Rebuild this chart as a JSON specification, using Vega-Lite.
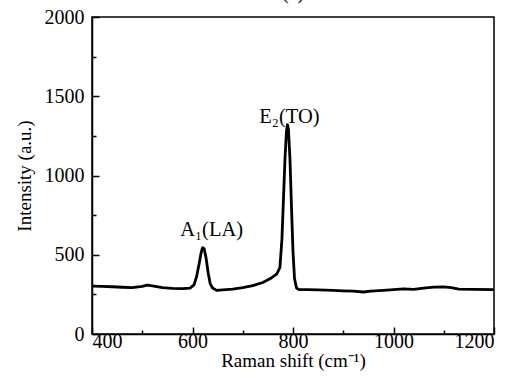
{
  "$schema": "https://vega.github.io/schema/vega-lite/v6.json",
  "width": 402,
  "height": 317,
  "autosize": {"type": "none"},
  "padding": {"left": 92, "top": 17, "right": 37, "bottom": 49},
  "background": "white",
  "title": {"text": "(a)", "font": "Times New Roman, Liberation Serif, serif", "fontSize": 20, "fontWeight": "normal", "color": "black", "offset": 4, "anchor": "middle"},
  "config": {
    "view": {"stroke": "black", "strokeWidth": 1.5},
    "axis": {
      "labelFont": "Times New Roman, Liberation Serif, serif", "titleFont": "Times New Roman, Liberation Serif, serif",
      "labelFontSize": 20, "titleFontSize": 19, "titleFontWeight": "normal",
      "labelColor": "black", "titleColor": "black",
      "domainColor": "black", "domainWidth": 1.5, "tickColor": "black", "tickWidth": 1.5,
      "grid": false
    }
  },
  "datasets": {
    "spectrum": [
      {"shift": 400, "intensity": 302}, {"shift": 420, "intensity": 300}, {"shift": 440, "intensity": 298},
      {"shift": 460, "intensity": 295}, {"shift": 480, "intensity": 292}, {"shift": 500, "intensity": 300},
      {"shift": 510, "intensity": 308}, {"shift": 520, "intensity": 303}, {"shift": 540, "intensity": 292},
      {"shift": 560, "intensity": 288}, {"shift": 580, "intensity": 286}, {"shift": 595, "intensity": 290},
      {"shift": 603, "intensity": 310}, {"shift": 608, "intensity": 360}, {"shift": 613, "intensity": 440},
      {"shift": 617, "intensity": 510}, {"shift": 620, "intensity": 545}, {"shift": 623, "intensity": 540},
      {"shift": 627, "intensity": 480}, {"shift": 631, "intensity": 390}, {"shift": 635, "intensity": 320},
      {"shift": 640, "intensity": 290}, {"shift": 648, "intensity": 275}, {"shift": 660, "intensity": 278},
      {"shift": 680, "intensity": 283}, {"shift": 700, "intensity": 292}, {"shift": 720, "intensity": 305},
      {"shift": 740, "intensity": 325}, {"shift": 755, "intensity": 350}, {"shift": 768, "intensity": 380},
      {"shift": 774, "intensity": 420}, {"shift": 778, "intensity": 600}, {"shift": 781, "intensity": 850},
      {"shift": 784, "intensity": 1100}, {"shift": 787, "intensity": 1280}, {"shift": 789, "intensity": 1320},
      {"shift": 791, "intensity": 1290}, {"shift": 794, "intensity": 1100}, {"shift": 797, "intensity": 800},
      {"shift": 800, "intensity": 520}, {"shift": 803, "intensity": 350}, {"shift": 807, "intensity": 290},
      {"shift": 812, "intensity": 280}, {"shift": 830, "intensity": 280}, {"shift": 850, "intensity": 278},
      {"shift": 880, "intensity": 275}, {"shift": 900, "intensity": 272}, {"shift": 920, "intensity": 270},
      {"shift": 940, "intensity": 265}, {"shift": 955, "intensity": 270}, {"shift": 980, "intensity": 275},
      {"shift": 1000, "intensity": 280}, {"shift": 1020, "intensity": 285}, {"shift": 1040, "intensity": 282},
      {"shift": 1060, "intensity": 290}, {"shift": 1080, "intensity": 296}, {"shift": 1100, "intensity": 297},
      {"shift": 1115, "intensity": 292}, {"shift": 1130, "intensity": 283}, {"shift": 1160, "intensity": 282},
      {"shift": 1200, "intensity": 280}
    ],
    "labels": [
      {"shift": 638, "intensity": 656, "label": "A₁(LA)"},
      {"shift": 793, "intensity": 1369, "label": "E₂(TO)"}
    ]
  },
  "layer": [
    {
      "data": {"name": "spectrum"},
      "mark": {"type": "line", "color": "black", "strokeWidth": 2.8, "strokeJoin": "round"},
      "encoding": {
        "x": {"field": "shift", "type": "quantitative", "scale": {"domain": [400, 1200], "nice": false},
          "axis": {"orient": "bottom", "values": [400, 600, 800, 1000, 1200], "format": "d", "tickSize": -7, "labelPadding": 4, "title": "Raman shift (cm⁻¹)", "titlePadding": 0}},
        "y": {"field": "intensity", "type": "quantitative", "scale": {"domain": [0, 2000], "nice": false},
          "axis": {"orient": "left", "values": [0, 500, 1000, 1500, 2000], "format": "d", "tickSize": -7, "labelPadding": 15, "title": "Intensity (a.u.)", "titlePadding": 10}}
      }
    },
    {
      "data": {"name": "spectrum"},
      "mark": {"type": "point", "opacity": 0},
      "encoding": {
        "x": {"field": "shift", "type": "quantitative", "scale": {"domain": [400, 1200], "nice": false},
          "axis": {"orient": "bottom", "values": [500, 700, 900, 1100], "tickSize": -4, "labels": false, "title": null, "domain": false}},
        "y": {"field": "intensity", "type": "quantitative", "scale": {"domain": [0, 2000], "nice": false},
          "axis": {"orient": "left", "values": [250, 750, 1250, 1750], "tickSize": -4, "labels": false, "title": null, "domain": false}}
      }
    },
    {
      "data": {"name": "labels"},
      "mark": {"type": "text", "font": "Times New Roman, Liberation Serif, serif", "fontSize": 20.5, "color": "black", "align": "center", "baseline": "middle"},
      "encoding": {
        "x": {"field": "shift", "type": "quantitative", "axis": null},
        "y": {"field": "intensity", "type": "quantitative", "axis": null},
        "text": {"field": "label"}
      }
    }
  ],
  "resolve": {"axis": {"x": "independent", "y": "independent"}}
}
